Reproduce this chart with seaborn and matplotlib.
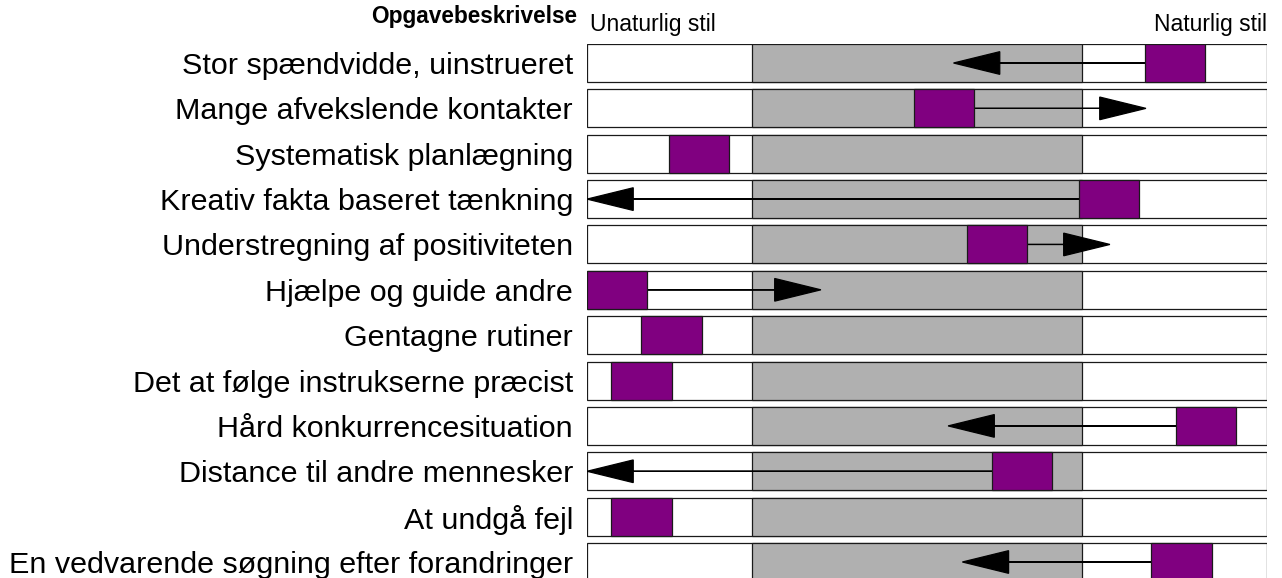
import numpy as np
import pandas as pd
import matplotlib.pyplot as plt
import seaborn as sns

# Data (position on a 0-100 scale from "Unaturlig stil" to "Naturlig stil")
tasks = ["Stor spændvidde, uinstrueret",
         "Mange afvekslende kontakter",
         "Systematisk planlægning",
         "Kreativ fakta baseret tænkning",
         "Understregning af positiviteten",
         "Hjælpe og guide andre",
         "Gentagne rutiner",
         "Det at følge instrukserne præcist",
         "Hård konkurrencesituation",
         "Distance til andre mennesker",
         "At undgå fejl",
         "En vedvarende søgning efter forandringer"]
square_left = [82.1, 48.1, 12.1, 72.3, 55.9, 0.0, 8.0, 3.6, 86.6, 59.5, 3.6, 83.0]
arrow_to = [53.9, 82.2, None, 0.0, 76.9, 34.4, None, None, 53.1, 0.0, None, 55.2]
scale_max = 100
natural_zone = (24.3, 72.8)
square_w = 8.85

# Style
sns.set_theme(style="white")
plt.rcParams['font.family'] = ['Liberation Sans', 'DejaVu Sans']
plt.rcParams['text.color'] = 'black'
plt.rcParams['ytick.color'] = 'black'

df = pd.DataFrame({"Opgave": tasks, "Skala": scale_max})

W, H = 1282, 578
fig = plt.figure(figsize=(W / 100, H / 100), dpi=100)
# axes: box from x=587..1267 px, rows from y=44..581 px
ax = fig.add_axes([587 / W, (H - 581) / H, 680 / W, 537 / H])

bar_h = 0.838
edge = "#1a1a1a"
sns.barplot(data=df, x="Skala", y="Opgave", orient="h", color="white",
            saturation=1, width=bar_h, edgecolor=edge, linewidth=0.9, ax=ax)

ypos = np.arange(len(tasks))
ax.barh(ypos, natural_zone[1] - natural_zone[0], left=natural_zone[0],
        height=bar_h, color="#b0b0b0", edgecolor=edge, linewidth=0.9, zorder=3)

# arrows from the square towards the direction of change
for y, (sl, tgt) in enumerate(zip(square_left, arrow_to)):
    if tgt is None:
        continue
    start = sl + square_w / 2
    ax.arrow(start, y, tgt - start, 0, width=0.0, head_width=0.5,
             head_length=6.8, length_includes_head=True,
             fc="black", ec="black", lw=0.9, zorder=4)

ax.barh(ypos, square_w, left=square_left, height=bar_h, color="#800080",
        edgecolor=edge, linewidth=0.9, zorder=5)

ax.set_xlim(0, scale_max)
ax.set_ylim(len(tasks) - 1 + bar_h / 2, -bar_h / 2)
ax.set_xlabel("")
ax.set_ylabel("")
ax.set_xticks([])
ax.tick_params(axis="y", length=0, pad=10, labelsize=21.95, labelcolor="black")
for s in ax.spines.values():
    s.set_visible(False)

fig.text(577 / W, 1 - 17 / H, "Opgavebeskrivelse", ha="right", va="center",
         fontsize=16.3, fontweight="bold")
fig.text(590 / W, 1 - 25 / H, "Unaturlig stil", ha="left", va="center",
         fontsize=16.5)
fig.text(1267 / W, 1 - 25 / H, "Naturlig stil", ha="right", va="center",
         fontsize=16.5)

fig.savefig("out.png", dpi=100)
